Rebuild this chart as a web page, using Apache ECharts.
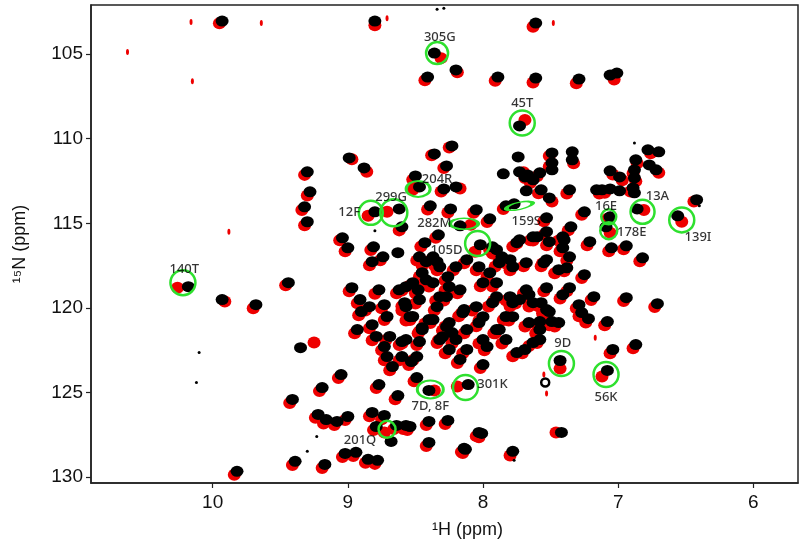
<!DOCTYPE html>
<html>
<head>
<meta charset="utf-8">
<script src="https://cdn.jsdelivr.net/npm/echarts@6/dist/echarts.min.js"></script>
<style>
  html, body { margin: 0; padding: 0; background: #fff; }
  #hsqc { width: 803px; height: 545px; }
</style>
</head>
<body>
<div id="hsqc"></div>
<script>
// peak positions, [1H ppm, 15N ppm]
var blackPeaks = [
  [9.93,103.05],[8.80,103.05],[7.61,103.17],[8.36,104.94],[8.20,105.94],[8.41,106.36],[7.89,106.36],[7.61,106.42],[7.29,106.48],[7.01,106.12],[7.06,106.24],[7.73,109.25],
  [9.30,111.96],[8.99,111.14],[8.88,111.73],[9.28,113.14],[9.32,114.03],[9.30,114.91],[8.23,110.43],[8.36,110.90],[8.27,111.61],[8.50,112.20],[8.47,112.85],[8.29,112.97],[8.20,112.85],
  [8.80,114.32],[8.62,114.15],[8.39,113.97],[8.24,114.15],[8.05,114.20],[8.60,115.21],[8.17,115.15],[8.33,115.68],[7.95,114.74],[7.83,113.97],[7.77,113.85],[8.02,116.27],
  [7.74,111.08],[7.85,112.08],[7.73,111.96],[7.67,112.14],[7.68,113.08],[9.04,115.86],[9.00,116.45],[8.81,116.39],[8.74,116.98],[8.82,117.27],[8.63,116.74],
  [6.86,114.15],[6.56,114.56],[7.06,114.62],[7.09,115.21],[6.42,113.61],
  [6.78,110.66],[6.70,110.78],[6.87,111.25],[6.88,111.84],[6.77,111.55],[6.72,111.84],[6.88,112.32],[6.89,112.91],[6.88,113.20],[6.99,112.26],[7.06,111.90],[6.99,113.08],[7.06,112.97],[7.12,113.02],[7.16,113.02],
  [7.36,113.02],[7.34,110.78],[7.34,111.25],[7.49,110.84],[7.49,111.43],[7.49,111.84],[7.58,112.02],[7.63,112.43],[7.69,112.26],[7.57,113.02],[7.51,113.50],[7.53,114.68],[7.25,114.32],[7.35,115.21],
  [7.53,115.50],[7.63,115.80],[7.51,116.09],[7.40,115.98],[7.21,116.09],[7.05,116.45],[6.94,116.33],[6.82,117.04],[7.41,116.45],[7.36,116.98],[7.38,117.63],[7.55,117.33],[7.25,118.04],
  [6.94,119.40],[6.71,119.75],[7.08,120.81],[7.22,120.64],[7.29,119.81],[7.27,120.28],[7.18,119.34],[7.49,120.81],[7.58,120.81],[7.51,120.22],[7.41,119.22],[7.36,118.81],[7.53,118.81],[7.66,119.22],[7.57,119.69],
  [7.63,122.05],[7.58,121.87],[7.69,122.46],[7.04,122.46],[6.87,122.17],[7.43,123.11],[7.08,123.70],[7.42,127.36],
  [8.40,124.88],[8.11,124.53],[8.40,126.71],[8.26,126.65],[8.01,127.42],[8.40,127.95],[8.13,128.36],[7.78,128.48],[8.54,127.01],
  [9.44,118.51],[9.35,122.35],[9.05,123.94],[9.19,124.71],[9.41,125.41],[8.77,124.53],[8.63,125.18],[9.22,126.30],[9.16,126.60],[9.08,126.71],[9.00,126.42],[8.82,126.18],[8.73,126.36],
  [8.68,127.89],[8.79,127.01],[8.64,126.95],[8.57,126.95],[8.14,128.30],[8.03,127.36],[9.02,128.60],[8.94,128.54],[8.85,128.95],[8.78,129.01],[9.17,129.25],[9.39,129.07],
  [10.18,118.75],[9.93,119.51],[9.68,119.81],[9.82,129.66],
  [8.91,119.51],[8.90,120.22],[8.97,118.81],[8.73,119.81],[8.71,120.51],[8.82,120.99],[8.93,121.28],[8.62,118.93],[8.58,119.69],[8.52,120.51],[8.45,121.17],[8.48,118.93],[8.42,118.34],
  [8.34,119.93],[8.37,120.69],[8.32,121.87],[8.23,121.46],[8.12,121.28],[8.03,120.87],[8.14,120.10],[8.27,119.34],[8.17,118.93],[8.00,118.51],[7.90,119.34],[7.78,119.69],[7.68,118.93],
  [7.83,120.51],[7.90,121.28],[7.97,122.29],[8.17,123.05],[8.00,123.35],[8.47,121.99],[8.60,121.99],[8.73,122.29],[8.71,122.88],[8.67,123.47],[8.60,122.88],[8.53,123.17],[8.49,124.12],
  [8.45,117.92],[8.26,118.16],[8.47,116.98],[8.37,116.98],[8.32,117.57],[8.20,117.57],[8.12,117.15],[7.93,116.39],[7.86,116.98],[7.78,117.57],[7.73,115.98],[7.68,117.33],[8.03,117.57],[7.95,117.92],
  [8.43,116.15],[8.42,117.27],[8.34,117.27],[8.57,118.75],[8.52,118.51],[8.37,118.51],[8.25,118.75],[8.32,119.34],[8.47,119.51],[8.57,119.93],[8.54,120.52],[8.40,120.69],[8.45,121.28],
  [8.25,120.87],[8.30,121.70],[8.20,121.87],[8.00,120.52],[8.05,119.93],[7.93,119.69],[7.90,118.51],[7.88,117.33],[7.90,116.56],[7.80,117.15],[7.75,116.15],[7.60,115.80],[7.53,117.15],
  [7.41,115.80],[7.44,117.74],[7.80,119.34],[7.73,119.51],[7.63,119.69],[7.53,120.10],[7.44,120.87],[7.78,120.52],[7.66,120.87],[7.58,121.28],[7.88,121.28],[7.83,121.87],[8.00,121.87],
  [8.12,122.46],[8.25,122.46],[7.75,122.64],[8.57,121.87],[8.49,122.88],[8.27,121.11],[8.15,120.28],[8.79,121.69],[8.69,121.69],[8.84,119.93],[8.77,118.93]
];
var blackSmall = [
  [8.34,102.35],[8.29,102.29],[8.80,115.44],[6.88,110.25],[9.23,127.60],[9.30,128.48],[10.10,122.64],[10.12,124.41],[7.77,129.01],[6.40,113.97]
];
var blackRing = [[7.54,124.41]];

var redPeaks = [
  [9.95,103.18],[8.80,103.30],[7.63,103.38],[8.31,105.24],[8.19,106.08],[8.43,106.55],[7.91,106.58],[7.63,106.68],[7.31,106.72],[7.03,106.50],[7.69,108.89],
  [9.32,112.14],[8.97,111.22],[8.86,111.95],[9.30,113.36],[9.34,114.22],[9.32,115.12],[8.25,110.52],[8.38,110.98],[8.29,111.74],[8.52,112.42],[8.52,113.02],[8.31,113.12],[8.17,112.95],
  [8.85,114.56],[8.71,114.32],[8.41,114.18],[8.26,114.36],[8.07,114.38],[8.62,115.42],[8.09,115.09],[8.35,115.86],[7.97,114.92],[7.85,114.16],[8.06,116.68],
  [7.70,111.98],[7.69,112.32],[9.06,116.00],[9.02,116.66],[8.83,116.58],[8.76,117.18],[8.84,117.48],
  [6.81,114.21],[6.53,114.91],[7.08,114.74],[7.06,115.56],[6.44,113.72],
  [6.76,110.86],[6.86,111.45],[6.89,112.05],[6.70,112.02],[6.87,112.52],[6.91,113.12],[6.97,112.46],[7.04,112.12],[7.10,113.20],[7.14,113.24],
  [7.38,113.24],[7.33,111.45],[7.51,111.02],[7.51,111.64],[7.60,112.22],[7.65,112.62],[7.59,113.22],[7.49,113.72],[7.55,114.88],[7.27,114.50],[7.37,115.42],
  [7.55,115.70],[7.65,116.00],[7.53,116.30],[7.42,116.20],[7.23,116.30],[7.07,116.66],[6.96,116.54],[6.84,117.24],[7.43,116.66],[7.38,117.20],[7.40,117.84],[7.57,117.54],[7.27,118.24],
  [6.96,119.60],[6.73,119.95],[7.10,121.02],[7.24,120.86],[7.31,120.02],[7.29,120.50],[7.20,119.54],[7.51,121.02],[7.60,121.02],[7.53,120.44],[7.43,119.44],[7.38,119.02],[7.55,119.02],[7.68,119.44],[7.59,119.90],
  [7.66,122.26],[7.60,122.08],[7.71,122.68],[7.06,122.68],[6.89,122.38],[7.43,123.59],[7.12,124.06],[7.46,127.36],
  [8.36,124.88],[8.19,124.65],[8.42,126.92],[8.28,126.86],[8.03,127.64],[8.42,128.16],[8.15,128.58],[7.80,128.72],[8.56,127.22],
  [9.46,118.66],[9.25,122.05],[9.07,124.15],[9.21,124.92],[9.43,125.62],[8.79,124.74],[8.65,125.40],[9.24,126.50],[9.18,126.84],[9.10,126.92],[9.02,126.62],[8.84,126.40],[8.75,126.58],
  [8.73,127.36],[8.81,127.22],[8.66,127.16],[8.59,127.16],[8.16,128.52],[8.05,127.58],[9.04,128.82],[8.96,128.76],[8.87,129.16],[8.80,129.22],[9.19,129.46],[9.41,129.28],
  [10.26,118.81],[9.91,119.62],[9.70,120.02],[9.84,129.86],
  [8.93,119.72],[8.92,120.44],[8.99,119.02],[8.75,120.02],[8.73,120.72],[8.84,121.20],[8.95,121.50],[8.64,119.14],[8.60,119.90],[8.54,120.72],[8.47,121.38],[8.50,119.14],[8.44,118.56],
  [8.36,120.14],[8.39,120.90],[8.34,122.08],[8.25,121.68],[8.14,121.50],[8.05,121.08],[8.16,120.32],[8.29,119.56],[8.19,119.14],[8.02,118.72],[7.92,119.56],[7.80,119.90],[7.70,119.14],
  [7.85,120.72],[7.92,121.50],[7.99,122.50],[8.19,123.26],[8.02,123.56],[8.49,122.20],[8.62,122.20],[8.75,122.50],[8.73,123.10],[8.69,123.68],[8.62,123.10],[8.55,123.38],[8.51,124.34],
  [8.47,118.14],[8.28,118.38],[8.49,117.20],[8.39,117.20],[8.34,117.78],[8.22,117.78],[8.14,117.36],[7.95,116.60],[7.88,117.20],[7.80,117.78],[7.75,116.20],[7.70,117.54],[8.05,117.78],[7.97,118.14],
  [8.46,116.38],[8.45,117.50],[8.36,117.48],[8.60,118.98],[8.55,118.72],[8.40,118.74],[8.28,118.96],[8.35,119.58],[8.50,119.74],[8.60,120.16],[8.57,120.74],[8.43,120.92],[8.48,121.50],
  [8.28,121.10],[8.33,121.92],[8.23,122.10],[8.03,120.74],[8.08,120.16],[7.96,119.92],[7.93,118.74],[7.91,117.56],[7.93,116.78],[7.83,117.38],[7.78,116.38],[7.63,116.02],[7.56,117.38],
  [7.44,116.02],[7.47,117.96],[7.83,119.56],[7.76,119.74],[7.66,119.92],[7.56,120.32],[7.47,121.10],[7.81,120.74],[7.69,121.10],[7.61,121.50],[7.91,121.50],[7.86,122.10],[8.03,122.10],
  [8.15,122.68],[8.28,122.68],[7.78,122.86],[8.60,122.10],[8.52,123.10],[8.30,121.34],[8.18,120.50],[8.82,121.92],[8.72,121.92],[8.87,120.16],[8.80,119.16]
];
var redSmall = [
  [10.16,103.11],[9.64,103.17],[10.63,104.88],[10.15,106.60],[9.88,115.50],[8.71,102.88],[7.48,103.17],[7.17,121.76],[7.53,125.06],[7.55,123.94]
];

// assignment circles: [1H, 15N, diameter px]
var circles = [
  [8.34,104.94,22],[7.71,109.07,25],[8.83,114.38,24],[8.66,114.38,27],[8.04,116.20,25],[7.07,114.62,15],[7.07,115.44,17],
  [6.82,114.32,24],[6.53,114.80,25],[10.22,118.51,25],[7.42,123.29,25],[7.09,123.94,25],[8.13,124.71,25],[8.71,127.18,17]
];
var ellipses = [[8.48,112.97],[8.14,115.03],[8.39,124.82],[7.73,113.97]];
var ellipseSizes = [[24,16],[28,11],[26,18],[27,7]];

var labelNames = ['305G','45T','204R','299G','12F','282M','159S','105D','16E','178E','13A','139I','140T','9D','56K','301K','201Q','7D, 8F'];
var labelPos = [
  [8.32,104.00],[7.71,107.89],[8.34,112.38],[8.68,113.44],[8.99,114.38],[8.36,115.03],[7.68,114.91],[8.27,116.62],[7.09,113.97],
  [6.90,115.56],[6.71,113.38],[6.41,115.80],[10.21,117.74],[7.41,122.11],[7.09,125.30],[7.93,124.53],[8.91,127.83],[8.39,125.83]
];

var xTicks = [6, 7, 8, 9, 10];
var yTicks = [105, 110, 115, 120, 125, 130];

var chart = echarts.init(document.getElementById('hsqc'));
var green = '#2ee02e';
var axisFont = '"Liberation Sans", Arial, sans-serif';

var labelData = labelNames.map(function(n, i) {
  return { value: labelPos[i], name: n };
});

var option = {
  animation: false,
  backgroundColor: '#fff',
  grid: { left: 91, right: 5, top: 5, bottom: 62, show: true, borderColor: '#222', borderWidth: 1.5 },
  xAxis: {
    type: 'value', inverse: true, min: 5.67, max: 10.9,
    name: '\u00b9H (ppm)', nameLocation: 'middle', nameGap: 38,
    nameTextStyle: { fontSize: 18, color: '#111', fontFamily: axisFont, padding: [0, 0, 0, 46] },
    axisLine: { onZero: false, lineStyle: { color: '#222', width: 1.5 } },
    axisTick: { customValues: xTicks, length: 5, lineStyle: { color: '#222', width: 1.2 } },
    axisLabel: { customValues: xTicks, fontSize: 19, color: '#111', fontFamily: axisFont, margin: 10 },
    splitLine: { show: false }
  },
  yAxis: {
    type: 'value', inverse: true, min: 102.1, max: 130.35,
    name: '\u00b9\u2075N (ppm)', nameLocation: 'middle', nameGap: 62,
    nameTextStyle: { fontSize: 18, color: '#111', fontFamily: axisFont },
    axisLine: { onZero: false, lineStyle: { color: '#222', width: 1.5 } },
    axisTick: { customValues: yTicks, length: 5, lineStyle: { color: '#222', width: 1.2 } },
    axisLabel: { customValues: yTicks, fontSize: 19, color: '#111', fontFamily: axisFont, margin: 8 },
    splitLine: { show: false }
  },
  series: [
    { type: 'scatter', data: redPeaks, symbol: 'circle', symbolSize: [13, 12], itemStyle: { color: '#ee0000', opacity: 1 }, z: 1 },
    { type: 'scatter', data: redSmall, symbol: 'circle', symbolSize: [3, 6], itemStyle: { color: '#ee0000', opacity: 1 }, z: 1 },
    { type: 'scatter', data: blackPeaks, symbol: 'circle', symbolSize: [13, 11], itemStyle: { color: '#000', opacity: 1 }, z: 2 },
    { type: 'scatter', data: blackSmall, symbol: 'circle', symbolSize: [3, 3], itemStyle: { color: '#000', opacity: 1 }, z: 2 },
    { type: 'scatter', data: blackRing, symbol: 'circle', symbolSize: 8, itemStyle: { color: '#fff', borderColor: '#000', borderWidth: 2.5, opacity: 1 }, z: 3 },
    {
      type: 'scatter', z: 4, symbol: 'circle',
      data: circles.map(function(c) { return [c[0], c[1]]; }),
      symbolSize: function(v, p) { return circles[p.dataIndex][2]; },
      itemStyle: { color: 'rgba(0,0,0,0)', borderColor: green, borderWidth: 2.5, opacity: 1 }
    },
    {
      type: 'scatter', z: 4, symbol: 'circle', data: ellipses,
      symbolSize: function(v, p) { return ellipseSizes[p.dataIndex]; },
      symbolRotate: function(v, p) { return p.dataIndex === 3 ? 12 : 0; },
      itemStyle: { color: 'rgba(0,0,0,0)', borderColor: green, borderWidth: 2.5, opacity: 1 }
    },
    {
      type: 'scatter', z: 5, data: labelData, symbolSize: 0,
      label: {
        show: true, position: 'inside', formatter: '{b}',
        fontSize: 13, color: '#000', fontWeight: 500, fontFamily: '"Noto Sans", sans-serif'
      }
    }
  ]
};

chart.setOption(option);
</script>
</body>
</html>
